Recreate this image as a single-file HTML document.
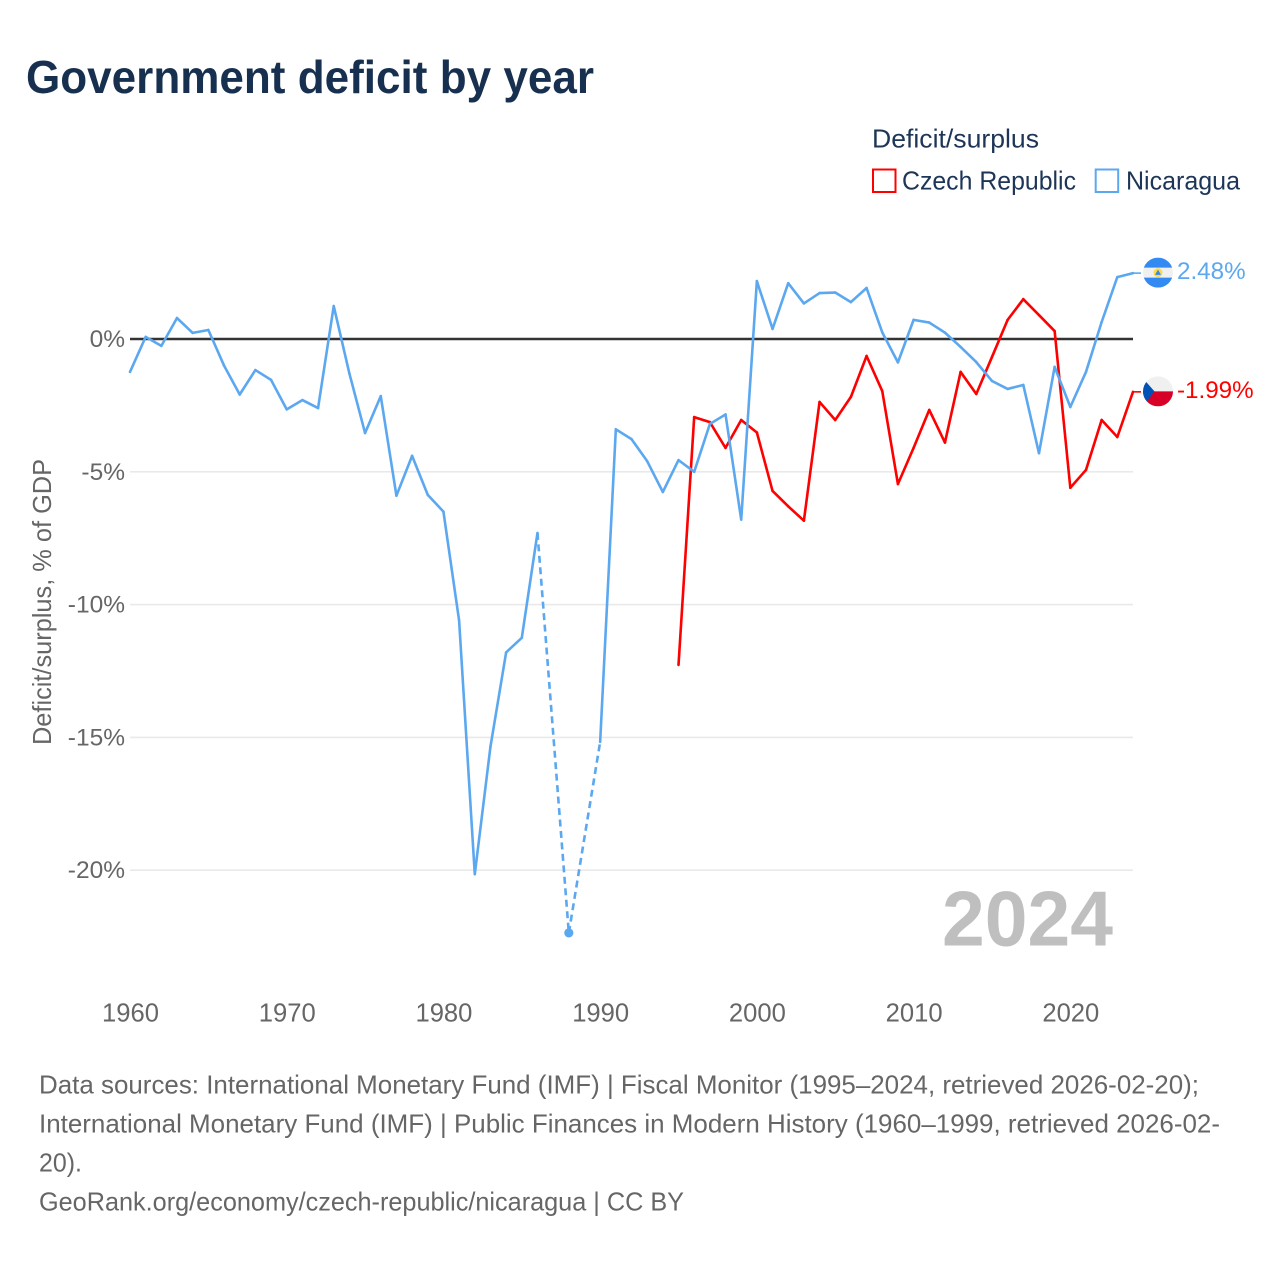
<!DOCTYPE html>
<html lang="en">
<head>
<meta charset="utf-8">
<title>Government deficit by year</title>
<style>
html,body{margin:0;padding:0;background:#fff;}
svg{display:block;}
text{font-family:"Liberation Sans",sans-serif;}
</style>
</head>
<body>
<svg id="chart" xmlns="http://www.w3.org/2000/svg" width="1280" height="1280" viewBox="0 0 1280 1280">
  <rect width="1280" height="1280" fill="#ffffff"/>
  <text x="26" y="93" font-size="46" font-weight="700" fill="#18304f" textLength="568" lengthAdjust="spacingAndGlyphs">Government deficit by year</text>

  <g>
    <text x="872" y="147.5" font-size="26" fill="#1d3557" textLength="167" lengthAdjust="spacingAndGlyphs">Deficit/surplus</text>
    <rect x="873" y="169.5" width="22.5" height="22.5" fill="none" stroke="#ff0000" stroke-width="2"/>
    <text x="902" y="189.5" font-size="26" fill="#1d3557" textLength="174" lengthAdjust="spacingAndGlyphs">Czech Republic</text>
    <rect x="1095.7" y="169.5" width="22.5" height="22.5" fill="none" stroke="#5ba8f0" stroke-width="2"/>
    <text x="1126" y="189.5" font-size="26" fill="#1d3557" textLength="114" lengthAdjust="spacingAndGlyphs">Nicaragua</text>
  </g>

  <g id="grid"></g>
  <g id="yticks"></g>
  <g id="xticks"></g>
  <text transform="translate(51,745) rotate(-90)" x="0" y="0" font-size="26" fill="#666666" textLength="286" lengthAdjust="spacingAndGlyphs">Deficit/surplus, % of GDP</text>
  <text x="942" y="945.5" font-size="78" font-weight="700" fill="#bfbfbf" textLength="171" lengthAdjust="spacingAndGlyphs">2024</text>
  <g id="series"></g>

  <g id="flag-nicaragua">
    <clipPath id="clip-ni"><circle cx="0" cy="0" r="15"/></clipPath>
    <g clip-path="url(#clip-ni)">
      <rect x="-15" y="-15" width="30" height="30" fill="#f0f0f0"/>
      <rect x="-15" y="-15" width="30" height="10" fill="#338af3"/>
      <rect x="-15" y="5" width="30" height="10" fill="#338af3"/>
    </g>
    <circle cx="0" cy="0" r="4.5" fill="#ffda44"/>
    <path d="M0-3L3 2.2H-3Z" fill="#338af3"/>
  </g>
  <g id="flag-czech">
    <clipPath id="clip-cz"><circle cx="0" cy="0" r="15"/></clipPath>
    <g clip-path="url(#clip-cz)">
      <rect x="-15" y="-15" width="30" height="15" fill="#f0f0f0"/>
      <rect x="-15" y="0" width="30" height="15" fill="#d80027"/>
      <path d="M-15-13L-3.5 0L-15 15Z" fill="#0052b4"/>
    </g>
  </g>

  <g font-size="26" fill="#666666">
    <text x="39" y="1093.5" font-size="26" fill="#666666" textLength="1160" lengthAdjust="spacingAndGlyphs">Data sources: International Monetary Fund (IMF) | Fiscal Monitor (1995–2024, retrieved 2026-02-20);</text>
    <text x="39" y="1132.5" font-size="26" fill="#666666" textLength="1181" lengthAdjust="spacingAndGlyphs">International Monetary Fund (IMF) | Public Finances in Modern History (1960–1999, retrieved 2026-02-</text>
    <text x="39" y="1171.5" font-size="26" fill="#666666" textLength="43" lengthAdjust="spacingAndGlyphs">20).</text>
    <text x="39" y="1210.5" font-size="26" fill="#666666" textLength="645" lengthAdjust="spacingAndGlyphs">GeoRank.org/economy/czech-republic/nicaragua | CC BY</text>
  </g>
</svg>
<script>
const startYear = 1960;
const endYear = 2024;
const xTickYears = [1960, 1970, 1980, 1990, 2000, 2010, 2020];
const yTickValues = [0, -5, -10, -15, -20];
const yTickLabels = ['0%', '-5%', '-10%', '-15%', '-20%'];

// Values per year from 1960 to 2024; null = no data
const nicaraguaValues = [
  -1.24, 0.08, -0.26, 0.79, 0.23, 0.34, -1.0, -2.09, -1.17, -1.54,
  -2.65, -2.3, -2.6, 1.24, -1.3, -3.54, -2.15, -5.9, -4.4, -5.87,
  -6.5, -10.6, -20.15, -15.35, -11.8, -11.25, -7.3, null, -22.36, null,
  -15.17, -3.4, -3.77, -4.6, -5.76, -4.56, -5.0, -3.2, -2.84, -6.8,
  2.18, 0.38, 2.1, 1.34, 1.73, 1.75, 1.39, 1.92, 0.25, -0.88,
  0.72, 0.62, 0.24, -0.3, -0.87, -1.58, -1.88, -1.73, -4.3, -1.05,
  -2.56, -1.24, 0.64, 2.33, 2.48
];
const czechValues = [
  null, null, null, null, null, null, null, null, null, null,
  null, null, null, null, null, null, null, null, null, null,
  null, null, null, null, null, null, null, null, null, null,
  null, null, null, null, null, -12.27, -2.94, -3.13, -4.1, -3.05,
  -3.52, -5.72, -6.3, -6.84, -2.37, -3.05, -2.18, -0.64, -1.96, -5.46,
  -4.1, -2.67, -3.9, -1.24, -2.07, -0.68, 0.72, 1.5, 0.9, 0.3,
  -5.6, -4.93, -3.05, -3.69, -1.99
];

const NS = 'http://www.w3.org/2000/svg';
const x = function (year) { return 130 + (year - startYear) * (1133 - 130) / (endYear - startYear); };
const y = function (v) { return 339 - v * 26.56; };

function make(tag, attrs, parent, content) {
  const el = document.createElementNS(NS, tag);
  for (const k in attrs) el.setAttribute(k, attrs[k]);
  if (content !== undefined) el.textContent = content;
  parent.appendChild(el);
  return el;
}

const grid = document.getElementById('grid');
const yticks = document.getElementById('yticks');
const xticks = document.getElementById('xticks');
const series = document.getElementById('series');

yTickValues.forEach(function (v, i) {
  if (v !== 0) {
    const line = make('line', { x1: 130, x2: 1133, y1: y(v), y2: y(v), stroke: '#e9e9e9', 'stroke-width': 1.6 }, grid);
    
    
  }
  const label = make('text', { x: 125, y: y(v) + 8, 'text-anchor': 'end', 'font-size': 24.5, fill: '#666666' }, yticks, yTickLabels[i]);
  
  
});

xTickYears.forEach(function (yr) {
  const label = make('text', { x: x(yr) + 0.5, y: 1021.5, 'text-anchor': 'middle', 'font-size': 25.6, fill: '#666666' }, xticks, String(yr));
  
  
});

function drawSeries(values, color, key) {
  const present = [];
  values.forEach(function (v, i) { if (v !== null) present.push(i); });
  for (let j = 0; j < present.length - 1; j++) {
    const a = present[j];
    const b = present[j + 1];
    const gap = b - a > 1;
    const attrs = {
      x1: x(startYear + a), y1: y(values[a]),
      x2: x(startYear + b), y2: y(values[b]),
      stroke: color, 'stroke-width': 2.6, 'stroke-linecap': gap ? 'butt' : 'round'
    };
    if (gap) attrs['stroke-dasharray'] = '7 4.5';
    const seg = make('line', attrs, series);
    
    
  }
  present.forEach(function (i, j) {
    const prevGap = j === 0 || present[j] - present[j - 1] > 1;
    const nextGap = j === present.length - 1 || present[j + 1] - present[j] > 1;
    if (prevGap && nextGap) {
      const dot = make('circle', { cx: x(startYear + i), cy: y(values[i]), r: 4.6, fill: color }, series);
      
      
    }
  });
  const last = values[values.length - 1];
  const ex = x(endYear);
  const ey = y(last);
  const conn = make('line', { x1: ex, y1: ey, x2: ex + 8, y2: ey, stroke: color, 'stroke-width': 1.6 }, series);
  
  
  const endLabel = make('text', { x: ex + 44, y: ey + 6, 'font-size': 24.2, fill: color }, series, last.toFixed(2) + '%');
  
  
  return ey;
}

const zero = make('line', { x1: 130, x2: 1133, y1: y(0), y2: y(0), stroke: '#333333', 'stroke-width': 2.4 }, grid);



const czY = drawSeries(czechValues, '#ff0000', 'czech-republic');
const niY = drawSeries(nicaraguaValues, '#5ba8f0', 'nicaragua');
document.getElementById('flag-nicaragua').setAttribute('transform', 'translate(1158,' + (niY - 0.5) + ')');
document.getElementById('flag-czech').setAttribute('transform', 'translate(1158,' + (czY - 0.5) + ')');
</script>
</body>
</html>
